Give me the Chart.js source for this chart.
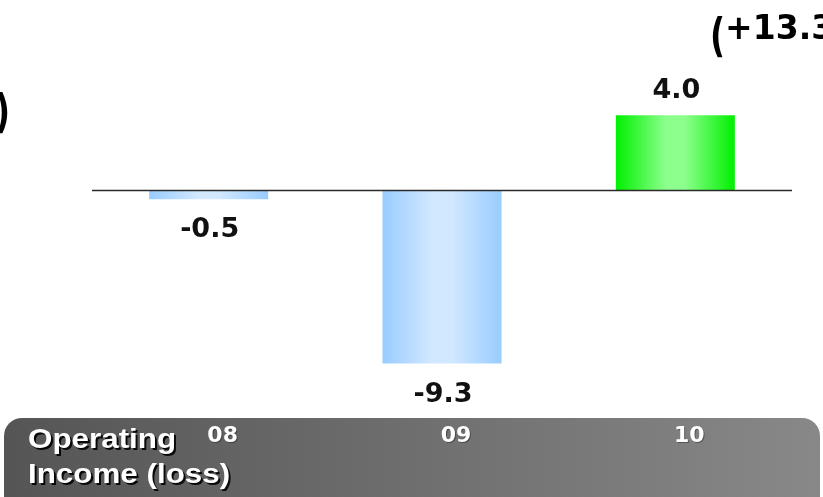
<!DOCTYPE html>
<html>
<head>
<meta charset="utf-8">
<script src="https://cdn.jsdelivr.net/npm/chart.js@4/dist/chart.umd.min.js"></script>
<style>
  html, body { margin: 0; padding: 0; background: #ffffff; }
  #wrap { width: 823px; height: 497px; position: relative; }
</style>
</head>
<body>
<div id="wrap"><canvas id="c" width="823" height="497"></canvas></div>
<script>
// Fiscal years and operating income (loss)
const categories = ['08', '09', '10'];
const operatingIncome = [-0.5, -9.3, 4.0];
const rowTitle = ['Operating', 'Income (loss)'];
const changeNote = ['(', '+13.3', ')'];
const leftNoteTail = ')';

// Bar fills: edge colour and highlight colour of the horizontal sheen
const lossFill = { edge: '#99ccff', light: '#d2e8ff' };
const gainFill = { edge: '#00f000', light: '#8cff8c' };
const BAR_FRACTION = 0.51;

// Horizontal sheen gradient for each bar, built from the bar's own x extent
function barFill(context) {
  const chart = context.chart;
  const v = operatingIncome[context.dataIndex];
  const f = v < 0 ? lossFill : gainFill;
  const xs = chart.scales && chart.scales.x;
  if (!chart.chartArea || !xs) return f.edge;
  const cx = xs.getPixelForValue(context.dataIndex);
  const half = (xs.width / categories.length) * BAR_FRACTION / 2;
  const g = chart.ctx.createLinearGradient(cx - half, 0, cx + half, 0);
  g.addColorStop(0, f.edge);
  g.addColorStop(0.42, f.light);
  g.addColorStop(0.58, f.light);
  g.addColorStop(1, f.edge);
  return g;
}

// Tall bracket glyph drawn with a vertical stretch
function tallParen(ctx, ch, x, baseline, align) {
  ctx.save();
  ctx.textAlign = align;
  ctx.translate(x, baseline + 12);
  ctx.scale(1, 1.4);
  ctx.fillText(ch, 0, 0);
  ctx.restore();
}

const decor = {
  id: 'decor',
  beforeDraw(chart) {
    const ctx = chart.ctx;
    ctx.save();
    ctx.fillStyle = '#ffffff';
    ctx.fillRect(0, 0, chart.width, chart.height);

    // grey banner holding the row title and year labels
    const x0 = 4, x1 = 820, y0 = 418, y1 = 530, r = 18;
    const g = ctx.createLinearGradient(x0, 0, x1, 0);
    g.addColorStop(0, '#555555');
    g.addColorStop(1, '#888888');
    ctx.fillStyle = g;
    ctx.beginPath();
    ctx.moveTo(x0 + r, y0);
    ctx.lineTo(x1 - r, y0);
    ctx.arcTo(x1, y0, x1, y0 + r, r);
    ctx.lineTo(x1, y1);
    ctx.lineTo(x0, y1);
    ctx.lineTo(x0, y0 + r);
    ctx.arcTo(x0, y0, x0 + r, y0, r);
    ctx.closePath();
    ctx.fill();
    ctx.restore();
  },
  afterDatasetsDraw(chart) {
    const ctx = chart.ctx;
    const area = chart.chartArea;
    const yScale = chart.scales.y;
    const xScale = chart.scales.x;
    const meta = chart.getDatasetMeta(0);
    ctx.save();

    // zero baseline
    const y0 = Math.round(yScale.getPixelForValue(0)) + 0.5;
    ctx.strokeStyle = '#2a2a2a';
    ctx.lineWidth = 1.4;
    ctx.beginPath();
    ctx.moveTo(area.left, y0);
    ctx.lineTo(area.right, y0);
    ctx.stroke();

    // value labels
    ctx.fillStyle = '#111111';
    ctx.font = 'bold 27px "DejaVu Sans"';
    ctx.textAlign = 'center';
    ctx.textBaseline = 'middle';
    meta.data.forEach((el, i) => {
      const v = operatingIncome[i];
      const y = v >= 0 ? el.y - 24 : el.y + 31;
      ctx.fillText(v.toFixed(1), el.x + 1, y);
    });

    // year labels in the banner
    ctx.fillStyle = '#ffffff';
    ctx.font = 'bold 22px "DejaVu Sans"';
    ctx.shadowColor = 'rgba(0,0,0,0.35)';
    ctx.shadowOffsetX = 1;
    ctx.shadowOffsetY = 1;
    categories.forEach((c, i) => {
      ctx.fillText(c, xScale.getPixelForValue(i) + 14, 436);
    });

    // row title, slightly widened
    ctx.textAlign = 'left';
    ctx.textBaseline = 'alphabetic';
    ctx.font = 'bold 28px "Liberation Sans"';
    ctx.shadowColor = 'rgba(0,0,0,0.9)';
    ctx.shadowOffsetX = 2;
    ctx.shadowOffsetY = 2;
    ctx.save();
    ctx.translate(28, 0);
    ctx.scale(1.12, 1);
    ctx.fillText(rowTitle[0], 0, 448);
    ctx.fillText(rowTitle[1], 0, 483);
    ctx.restore();

    // notes running off the edges
    ctx.shadowColor = 'transparent';
    ctx.fillStyle = '#000000';
    ctx.font = 'bold 33px "DejaVu Sans"';
    ctx.textAlign = 'left';
    const base = 39;
    tallParen(ctx, changeNote[0], 710, base, 'left');
    const pw = ctx.measureText(changeNote[0]).width;
    ctx.fillText(changeNote[1], 710 + pw, base);
    const nw = ctx.measureText(changeNote[1]).width;
    tallParen(ctx, changeNote[2], 710 + pw + nw, base, 'left');
    tallParen(ctx, leftNoteTail, 10, 115, 'right');
    ctx.restore();
  }
};

new Chart(document.getElementById('c'), {
  type: 'bar',
  data: {
    labels: categories,
    datasets: [{
      data: operatingIncome,
      backgroundColor: barFill,
      borderWidth: 0,
      categoryPercentage: 1.0,
      barPercentage: BAR_FRACTION
    }]
  },
  options: {
    responsive: false,
    animation: false,
    devicePixelRatio: 1,
    layout: { padding: { left: 92, right: 31, top: 78, bottom: 83 } },
    plugins: { legend: { display: false }, tooltip: { enabled: false } },
    scales: {
      x: { display: false },
      y: { display: false, min: -12, max: 6 }
    }
  },
  plugins: [decor]
});
</script>
</body>
</html>
